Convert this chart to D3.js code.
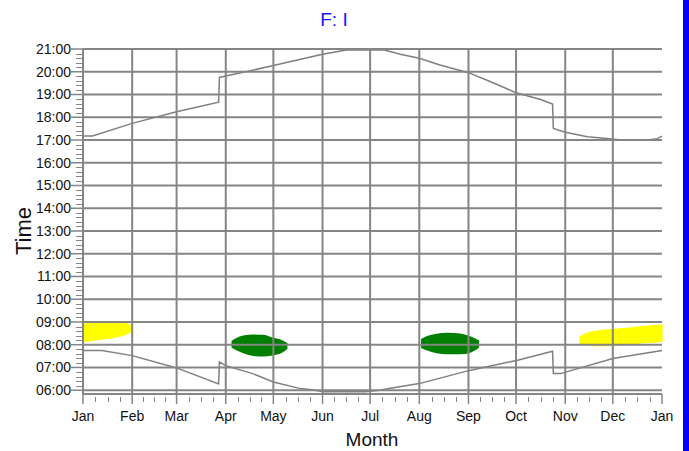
<!DOCTYPE html>
<html><head><meta charset="utf-8">
<script src="https://cdn.jsdelivr.net/npm/d3@7"></script>
<style>
body{margin:0;background:#fff}
svg{display:block}
text{font-family:"Liberation Sans",Arial,sans-serif}
</style>
</head><body>
<svg id="chart" width="689" height="451"></svg>
<script>
// ---- data ----
const title = "F: I";
const xTitle = "Month";
const yTitle = "Time";
const monthLabels = ["Jan","Feb","Mar","Apr","May","Jun","Jul","Aug","Sep","Oct","Nov","Dec","Jan"];
const monthStartDays = [0,31,59,90,120,151,181,212,243,273,304,334,365];
const hourTickValues = [6,7,8,9,10,11,12,13,14,15,16,17,18,19,20,21];
const hourTickLabels = ["06:00","07:00","08:00","09:00","10:00","11:00","12:00","13:00","14:00","15:00","16:00","17:00","18:00","19:00","20:00","21:00"];

// sunset (upper line): day of year, hours
const sunsetDays  = [0, 6, 31, 59, 85.5, 86, 90, 120, 151, 166, 190, 200, 212, 225, 243, 257, 273, 288, 296, 296.5, 304, 318, 330, 338, 356, 362, 365];
const sunsetHours = [17.17, 17.18, 17.73, 18.24, 18.66, 19.75, 19.81, 20.27, 20.77, 20.96, 20.96, 20.77, 20.59, 20.30, 19.96, 19.56, 19.08, 18.79, 18.58, 17.51, 17.34, 17.14, 17.07, 17.01, 17.00, 17.06, 17.17];

// sunrise (lower line)
const sunriseDays  = [0, 12, 31, 59, 85.5, 86, 90, 107, 120, 137, 143, 152, 178, 187, 190, 212, 243, 274, 296, 296.5, 301, 334, 365];
const sunriseHours = [7.75, 7.75, 7.52, 6.98, 6.28, 7.24, 7.08, 6.73, 6.36, 6.07, 6.03, 5.93, 5.93, 6.00, 6.04, 6.29, 6.86, 7.32, 7.71, 6.73, 6.73, 7.39, 7.75];

// yellow glare period (Jan)
const yellowJanDays = [0.8, 6.5, 12.8, 19.1, 25.4, 28.6, 30.3];
const yellowJanHi   = [8.90, 8.93, 8.96, 8.96, 8.93, 8.89, 8.81];
const yellowJanLo   = [8.15, 8.20, 8.26, 8.32, 8.42, 8.52, 8.61];
// yellow glare period (Nov-Dec)
const yellowDecDays = [313.4, 317.6, 326.0, 334.4, 342.8, 351.2, 359.6, 364.9];
const yellowDecHi   = [8.34, 8.49, 8.61, 8.67, 8.71, 8.78, 8.83, 8.86];
const yellowDecLo   = [8.05, 8.01, 7.96, 7.98, 8.02, 8.08, 8.12, 8.15];
// green glare period (Apr)
const greenAprDays = [94.1, 96.9, 101.1, 107.4, 113.7, 120.0, 125.3, 128.4];
const greenAprHi   = [8.15, 8.27, 8.37, 8.42, 8.40, 8.27, 8.17, 8.05];
const greenAprLo   = [7.90, 7.79, 7.66, 7.54, 7.51, 7.57, 7.68, 7.83];
// green glare period (Aug)
const greenAugDays = [213.6, 216.7, 223.0, 229.3, 237.7, 244.0, 249.2];
const greenAugHi   = [8.23, 8.34, 8.45, 8.49, 8.46, 8.34, 8.17];
const greenAugLo   = [7.88, 7.79, 7.66, 7.61, 7.61, 7.68, 7.88];

// ---- chart ----
const svg = d3.select("#chart");
const L = 83, R = 662, T = 49, B = 394;
const x = d3.scaleLinear().domain([0, 365]).range([L, R]);
const y = d3.scaleLinear().domain([5 + 50/60, 21]).range([B, T]);
const gridColor = "#858585";

svg.append("rect").attr("width", 689).attr("height", 451).attr("fill", "#fff");

// blobs
const blobs = [
  {days: yellowJanDays, hi: yellowJanHi, lo: yellowJanLo, color: "#ffff00"},
  {days: yellowDecDays, hi: yellowDecHi, lo: yellowDecLo, color: "#ffff00"},
  {days: greenAprDays, hi: greenAprHi, lo: greenAprLo, color: "#007f00"},
  {days: greenAugDays, hi: greenAugHi, lo: greenAugLo, color: "#007f00"}
];
const area = d3.area()
  .x(d => x(d.day)).y0(d => y(d.lo)).y1(d => y(d.hi))
  .curve(d3.curveMonotoneX);
blobs.forEach(b => {
  const pts = b.days.map((d, i) => ({day: d, hi: b.hi[i], lo: b.lo[i]}));
  svg.append("path").datum(pts).attr("d", area).attr("fill", b.color).attr("stroke", b.color).attr("stroke-width", 1.5);
});

// data lines
const line = d3.line().x(d => x(d[0])).y(d => y(d[1]));
svg.append("path").datum(sunsetDays.map((d, i) => [d, sunsetHours[i]]))
  .attr("d", line).attr("fill", "none").attr("stroke", "#7f7f7f").attr("stroke-width", 1.5);
svg.append("path").datum(sunriseDays.map((d, i) => [d, sunriseHours[i]]))
  .attr("d", line).attr("fill", "none").attr("stroke", "#7f7f7f").attr("stroke-width", 1.5);

// grid
const grid = svg.append("g");
grid.selectAll("line.h").data(hourTickValues).enter().append("line")
  .attr("x1", L).attr("x2", R).attr("y1", d => y(d)).attr("y2", d => y(d))
  .attr("stroke", gridColor).attr("stroke-width", 2);
grid.selectAll("line.v").data(monthStartDays.slice(1, 12)).enter().append("line")
  .attr("x1", d => x(d)).attr("x2", d => x(d)).attr("y1", T).attr("y2", B)
  .attr("stroke", gridColor).attr("stroke-width", 2);

// axes lines
svg.append("line").attr("x1", L).attr("x2", L).attr("y1", T).attr("y2", B).attr("stroke", gridColor).attr("stroke-width", 2);
svg.append("line").attr("x1", L).attr("x2", R).attr("y1", B).attr("y2", B).attr("stroke", gridColor).attr("stroke-width", 2);

// y ticks
const yMinor = [];
hourTickValues.slice(0, -1).forEach(h => { for (let k = 1; k < 5; k++) yMinor.push(h + k / 5); });
svg.selectAll("line.ym").data(yMinor).enter().append("line")
  .attr("x1", L - 7).attr("x2", L - 1).attr("y1", d => Math.round(y(d)) + 0.5).attr("y2", d => Math.round(y(d)) + 0.5)
  .attr("stroke", gridColor).attr("stroke-width", 1);
svg.selectAll("line.yM").data(hourTickValues).enter().append("line")
  .attr("x1", L - 12).attr("x2", L).attr("y1", d => y(d)).attr("y2", d => y(d))
  .attr("stroke", gridColor).attr("stroke-width", 1.5);
svg.selectAll("text.yl").data(hourTickValues).enter().append("text")
  .attr("x", L - 12).attr("y", d => y(d) + 5).attr("text-anchor", "end")
  .attr("font-size", 14).attr("fill", "#111").text((d, i) => hourTickLabels[i]);

// x ticks
const xMinor = [];
for (let m = 0; m < 12; m++) {
  const s = monthStartDays[m], len = monthStartDays[m + 1] - s;
  for (let k = 1; k < 4; k++) xMinor.push(s + len * k / 4);
}
svg.selectAll("line.xm").data(xMinor).enter().append("line")
  .attr("x1", d => Math.round(x(d)) + 0.5).attr("x2", d => Math.round(x(d)) + 0.5).attr("y1", B + 3).attr("y2", B + 8)
  .attr("stroke", gridColor).attr("stroke-width", 1);
svg.selectAll("line.xM").data(monthStartDays).enter().append("line")
  .attr("x1", d => x(d)).attr("x2", d => x(d)).attr("y1", B).attr("y2", B + 10)
  .attr("stroke", gridColor).attr("stroke-width", 1.5);
svg.selectAll("text.xl").data(monthStartDays).enter().append("text")
  .attr("x", d => x(d)).attr("y", 421).attr("text-anchor", "middle")
  .attr("font-size", 14).attr("fill", "#111").text((d, i) => monthLabels[i]);

// titles
svg.append("text").attr("x", 334).attr("y", 26).attr("text-anchor", "middle")
  .attr("font-size", 19).attr("fill", "#1515ff").text(title);
svg.append("text").attr("x", 372).attr("y", 446).attr("text-anchor", "middle")
  .attr("font-size", 19).attr("fill", "#111").text(xTitle);
svg.append("text").attr("transform", "translate(31,231) rotate(-90)").attr("text-anchor", "middle")
  .attr("font-size", 22).attr("fill", "#111").text(yTitle);

// right blue bar
svg.append("rect").attr("x", 683).attr("y", 0).attr("width", 6).attr("height", 451).attr("fill", "#0000ff");
</script>
</body></html>
